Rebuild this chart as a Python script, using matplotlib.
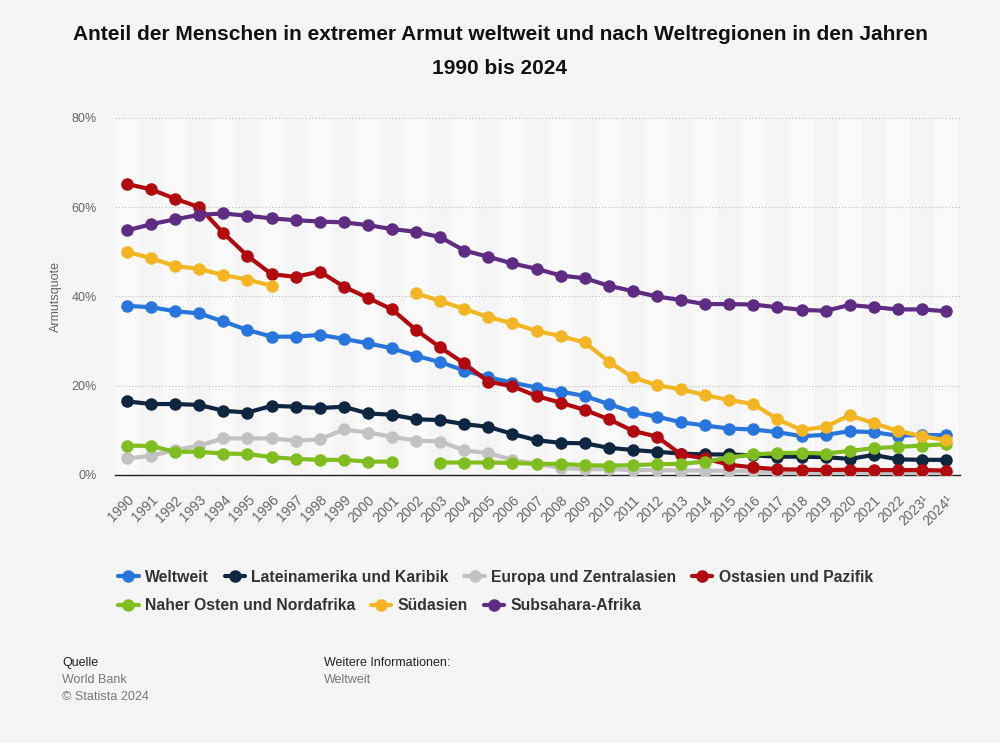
import numpy as np
import matplotlib
matplotlib.use("Agg")
import matplotlib.pyplot as plt

plt.rcParams['font.family'] = ['Liberation Sans', 'DejaVu Sans']

years = list(range(1990, 2025))
year_labels = [str(y) for y in range(1990, 2023)] + ["2023¹", "2024¹"]
nan = np.nan

weltweit = [37.9, 37.6, 36.7, 36.2, 34.4, 32.5, 31.0, 31.0, 31.4, 30.5, 29.5, 28.4,
            26.7, 25.3, 23.4, 21.9, 20.7, 19.6, 18.7, 17.7, 15.9, 14.1, 13.1, 11.8,
            11.1, 10.4, 10.2, 9.6, 8.7, 9.0, 9.8, 9.6, 8.8, 9.0, 8.9]
lateinamerika = [16.5, 15.9, 15.9, 15.7, 14.4, 14.0, 15.5, 15.3, 15.0, 15.3, 13.8, 13.5,
                 12.5, 12.3, 11.4, 10.8, 9.2, 7.8, 7.2, 7.1, 6.1, 5.6, 5.2, 4.8,
                 4.6, 4.6, 4.4, 4.1, 4.1, 4.0, 3.6, 4.5, 3.5, 3.4, 3.4]
europa = [3.7, 4.3, 5.6, 6.6, 8.2, 8.2, 8.2, 7.7, 8.0, 10.2, 9.5, 8.6,
          7.7, 7.5, 5.5, 4.9, 3.4, 2.5, 1.6, 1.3, 1.3, 1.1, 1.1, 1.0,
          1.0, 0.9, 0.8, 0.7, 0.5, 0.6, 0.7, 0.6, 0.5, 0.5, 0.5]
ostasien = [65.2, 64.0, 61.9, 60.0, 54.2, 49.1, 45.0, 44.4, 45.6, 42.2, 39.7, 37.1,
            32.5, 28.6, 25.0, 20.9, 19.9, 17.7, 16.2, 14.6, 12.5, 9.9, 8.6, 4.6,
            3.7, 2.3, 1.7, 1.3, 1.2, 1.1, 1.2, 1.1, 1.1, 1.1, 1.0]
naher_osten = [6.6, 6.5, 5.2, 5.2, 4.8, 4.7, 4.0, 3.6, 3.4, 3.4, 3.0, 3.0,
               nan, 2.8, 2.8, 2.8, 2.7, 2.5, 2.5, 2.2, 2.1, 2.2, 2.4, 2.5,
               3.0, 3.9, 4.6, 4.9, 5.0, 4.8, 5.4, 6.0, 6.3, 6.6, 6.9]
suedasien = [50.0, 48.6, 46.8, 46.2, 44.8, 43.8, 42.4, nan, nan, nan, nan, nan,
             40.7, 39.0, 37.2, 35.4, 34.0, 32.3, 31.1, 29.7, 25.4, 21.9, 20.1, 19.2,
             17.9, 16.8, 15.9, 12.5, 10.1, 10.8, 13.4, 11.6, 9.9, 8.7, 7.8]
subsahara = [54.8, 56.2, 57.3, 58.3, 58.6, 58.1, 57.5, 57.1, 56.8, 56.6, 56.0, 55.1,
             54.5, 53.3, 50.3, 48.9, 47.4, 46.2, 44.7, 44.1, 42.4, 41.2, 40.0, 39.2,
             38.3, 38.3, 38.2, 37.6, 37.0, 36.8, 38.1, 37.6, 37.1, 37.1, 36.7]

series = [
    ("Weltweit", weltweit, "#2876dd"),
    ("Lateinamerika und Karibik", lateinamerika, "#0f2640"),
    ("Europa und Zentralasien", europa, "#c2c2c2"),
    ("Ostasien und Pazifik", ostasien, "#b2090e"),
    ("Naher Osten und Nordafrika", naher_osten, "#80be1f"),
    ("Südasien", suedasien, "#f3b521"),
    ("Subsahara-Afrika", subsahara, "#5f2c84"),
]

bg = "#f5f5f5"
fig = plt.figure(figsize=(10, 7.43), dpi=100, facecolor=bg)
ax = fig.add_axes([0.115, 0.3607, 0.845, 0.4805], facecolor=bg)

# faint alternating column bands
for y in years[::2]:
    ax.axvspan(y - 0.5, y + 0.5, color="white", alpha=0.45, lw=0, zorder=0)

handles = []
for i, (name, vals, col) in enumerate(series):
    h, = ax.plot(years, vals, color=col, lw=3.0, marker="o", ms=8,
                 solid_capstyle="round", label=name, zorder=3 + i)
    handles.append(h)

ax.set_xlim(1989.5, 2024.58)
ax.set_ylim(0, 80)
ax.set_yticks([0, 20, 40, 60, 80])
ax.set_yticklabels(["0%", "20%", "40%", "60%", "80%"])
ax.set_xticks(years)
ax.set_xticklabels(year_labels, rotation=45, ha="right", rotation_mode="anchor")
ax.tick_params(axis="both", length=0, labelcolor="#666666")
ax.tick_params(axis="y", pad=13, labelsize=9)
ax.tick_params(axis="x", pad=13, labelsize=10)
ax.yaxis.grid(True, linestyle=(0, (1, 2)), color="#bbbbbb", lw=0.8)
ax.set_axisbelow(True)
for s in ["top", "right", "left"]:
    ax.spines[s].set_visible(False)
ax.spines["bottom"].set_color("#222222")
ax.spines["bottom"].set_linewidth(1.0)
ax.set_ylabel("Armutsquote", color="#666666", fontsize=9)
ax.yaxis.set_label_coords(-0.063, 0.5)

fig.text(0.5, 0.953, "Anteil der Menschen in extremer Armut weltweit und nach Weltregionen in den Jahren",
         ha="center", va="center", fontsize=15, fontweight="bold", color="#111111")
fig.text(0.5, 0.908, "1990 bis 2024", ha="center", va="center", fontsize=15,
         fontweight="bold", color="#111111")

leg_kw = dict(frameon=False, handlelength=1.3, handletextpad=0.4, columnspacing=1.0,
              prop={"weight": "bold", "size": 11.3}, labelcolor="#333333",
              loc="center left", borderaxespad=0)
fig.legend(handles[:4], [s[0] for s in series[:4]], ncol=4,
           bbox_to_anchor=(0.112, 0.223), **leg_kw)
fig.legend(handles[4:], [s[0] for s in series[4:]], ncol=3,
           bbox_to_anchor=(0.112, 0.185), **leg_kw)

fig.text(0.062, 0.107, "Quelle", fontsize=9, color="#222222", va="center")
fig.text(0.062, 0.085, "World Bank", fontsize=9, color="#777777", va="center")
fig.text(0.062, 0.062, "© Statista 2024", fontsize=9, color="#777777", va="center")
fig.text(0.324, 0.107, "Weitere Informationen:", fontsize=9, color="#222222", va="center")
fig.text(0.324, 0.085, "Weltweit", fontsize=9, color="#777777", va="center")

fig.savefig("out.png", dpi=100, facecolor=bg)
